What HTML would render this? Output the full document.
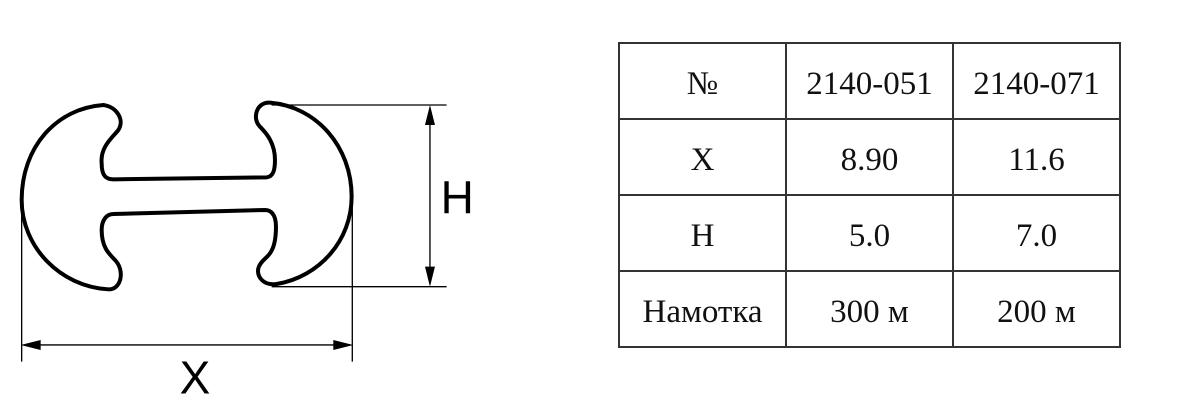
<!DOCTYPE html>
<html><head><meta charset="utf-8"><style>
html,body{margin:0;padding:0;background:#fff;width:1200px;height:407px;overflow:hidden;position:relative}
svg{position:absolute;left:0;top:0}
table{position:absolute;left:618px;top:42px;border-collapse:collapse;font-family:"Liberation Serif",serif;font-size:33px;color:#111}
td{border:2px solid #333;width:167px;height:76px;text-align:center;padding:6px 0 0 0;box-sizing:border-box}
</style></head><body>
<svg width="1200" height="407" viewBox="0 0 1200 407">
<g transform="translate(0,80) scale(0.3333)">
<path fill="none" stroke="#000" stroke-width="12" stroke-linejoin="round" d="M310 75 C350 80,375 120,355 150 C340 170,300 200,305 250 C305 290,320 298,340 298 L800 292 C820 290,825 270,825 240 C825 190,800 160,780 140 C755 115,770 65,810 68 C950 80,1055 200,1055 350 C1055 480,960 590,830 612 C790 618,770 590,775 565 C780 545,800 535,810 520 C825 500,828 470,828 440 C828 400,810 390,795 390 L340 402 C320 402,305 420,305 450 C305 500,325 520,345 540 C375 570,365 630,325 628 C180 620,65 500,65 360 C65 200,170 85,310 75 Z"/>
<g stroke="#000" stroke-width="4" fill="none">
<line x1="815" y1="75" x2="1340" y2="75"/>
<line x1="815" y1="620" x2="1340" y2="620"/>
<line x1="1290" y1="90" x2="1290" y2="605"/>
<line x1="65" y1="360" x2="65" y2="845"/>
<line x1="1057" y1="350" x2="1057" y2="845"/>
<line x1="80" y1="795" x2="1042" y2="795"/>
</g>
<g fill="#000">
<polygon points="1290,75 1275,135 1305,135"/>
<polygon points="1290,620 1275,560 1305,560"/>
<polygon points="62,795 122,780 122,810"/>
<polygon points="1060,795 1000,780 1000,810"/>
</g>
<text x="1372" y="400" font-family="Liberation Sans,sans-serif" font-size="138" text-anchor="middle">H</text>
<text x="585" y="940" font-family="Liberation Sans,sans-serif" font-size="138" text-anchor="middle">X</text>
</g>
</svg>
<table>
<tr><td>№</td><td>2140-051</td><td>2140-071</td></tr>
<tr><td>X</td><td>8.90</td><td>11.6</td></tr>
<tr><td>H</td><td>5.0</td><td>7.0</td></tr>
<tr><td>Намотка</td><td>300 м</td><td>200 м</td></tr>
</table>
</body></html>
